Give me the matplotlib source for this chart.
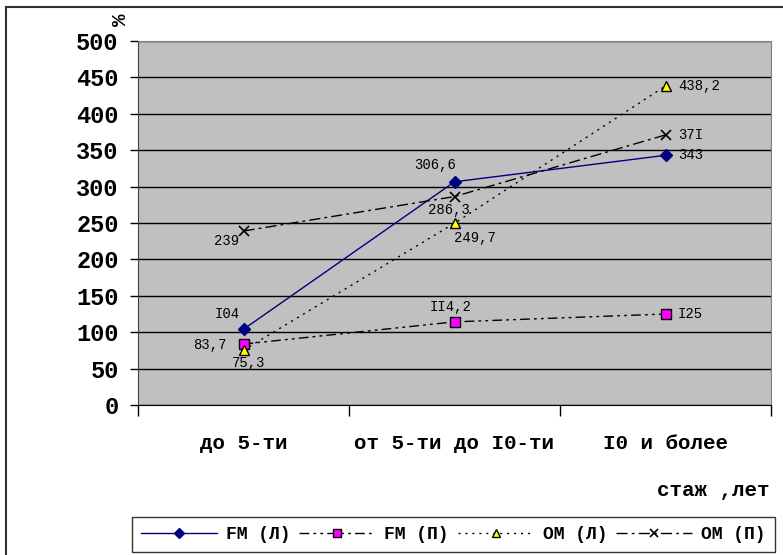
import matplotlib.pyplot as plt
from matplotlib.lines import Line2D

plt.rcParams["font.family"] = ["Liberation Mono", "DejaVu Sans Mono"]

categories = ["до 5-ти", "от 5-ти до I0-ти", "I0 и более"]
fm_l = [104, 306.6, 343]
fm_p = [83.7, 114.2, 125]
om_l = [75.3, 249.7, 438.2]
om_p = [239, 286.3, 371]
labels_fm_l = ["I04", "306,6", "343"]
labels_fm_p = ["83,7", "II4,2", "I25"]
labels_om_l = ["75,3", "249,7", "438,2"]
labels_om_p = ["239", "286,3", "37I"]
yticks = [0, 50, 100, 150, 200, 250, 300, 350, 400, 450, 500]

fig = plt.figure(figsize=(7.83, 5.55), dpi=100)
ax = fig.add_axes([138 / 783, 150 / 555, 633 / 783, 364 / 555])
ax.set_facecolor("#C0C0C0")

x = range(len(categories))
series = [
    (fm_l, labels_fm_l, dict(color="#000080", ls="-", marker="D", ms=6,
                             mfc="#000080", mec="#000080"), "FM (Л)"),
    (fm_p, labels_fm_p, dict(color="black", ls=(0, (7, 3, 2, 3, 2, 3)), marker="s",
                             ms=7, mfc="#FF00FF", mec="black"), "FM (П)"),
    (om_l, labels_om_l, dict(color="black", ls=(0, (1.5, 3.5)), marker="^", ms=7,
                             mfc="#FFFF00", mec="black"), "OM (Л)"),
    (om_p, labels_om_p, dict(color="black", ls=(0, (8, 3, 2, 3)), marker="x", ms=7,
                             mew=1.2), "OM (П)"),
]
handles = []
for vals, labs, style, name in series:
    (h,) = ax.plot(x, vals, lw=1, label=name, zorder=3, **style)
    handles.append(h)

# value labels, offsets in points from each marker
offsets = {
    "I04": (-12, 11, "center"), "83,7": (-12, -1, "right"), "75,3": (4, -9, "center"),
    "239": (-12, -7, "center"), "306,6": (-14, 12, "center"), "286,3": (-4, -10, "center"),
    "249,7": (15, -11, "center"), "II4,2": (-3, 11, "center"),
    "343": (9, 0, "left"), "37I": (9, 0, "left"), "438,2": (9, 0, "left"), "I25": (9, 0, "left"),
}
for vals, labs, _, _ in series:
    for xi, v, t in zip(x, vals, labs):
        dx, dy, ha = offsets[t]
        ax.annotate(t, (xi, v), xytext=(dx, dy), textcoords="offset points",
                    ha=ha, va="center", fontsize=10, zorder=4)

ax.set_xlim(-0.5, 2.5)
ax.set_ylim(0, 500)
ax.set_yticks(yticks)
ax.tick_params(axis="y", direction="out", length=6, width=1, labelsize=17, pad=8)
for lab in ax.get_yticklabels():
    lab.set_fontweight("bold")
ax.yaxis.grid(True, color="black", lw=1)
ax.set_axisbelow(True)

ax.set_xticks(list(x))
ax.set_xticklabels(categories, fontsize=15, fontweight="bold")
ax.tick_params(axis="x", which="major", length=0, pad=21)
ax.set_xticks([-0.5, 0.5, 1.5, 2.5], minor=True)
ax.tick_params(axis="x", which="minor", direction="out", length=8, width=1)

for s in ("top", "right"):
    ax.spines[s].set_color("#808080")
ax.spines["left"].set_color("#404040")
ax.spines["bottom"].set_color("black")

fig.text(121 / 783, 1 - 20 / 555, "%", rotation=90, fontsize=15,
         ha="center", va="center", fontweight="bold")
fig.text(657 / 783, 1 - 491 / 555, "стаж ,лет", fontsize=15,
         ha="left", va="center", fontweight="bold")

# outer frame of the chart area
fig.add_artist(Line2D([6 / 783, 6 / 783], [0, 1 - 7 / 555], color="#303030", lw=1.5))
fig.add_artist(Line2D([6 / 783, 1], [1 - 7 / 555, 1 - 7 / 555], color="#303030", lw=1.5))

leg = fig.legend(handles=handles, loc="lower left", ncol=4,
                 prop={"size": 13, "weight": "bold"},
                 bbox_to_anchor=(123 / 783, -6 / 555), frameon=True, fancybox=False,
                 handlelength=4.2, handletextpad=0.5, columnspacing=0.5,
                 borderpad=0.5, markerscale=0.8)
leg.get_frame().set_edgecolor("black")
leg.get_frame().set_linewidth(1)

fig.savefig("out.png", dpi=100)
